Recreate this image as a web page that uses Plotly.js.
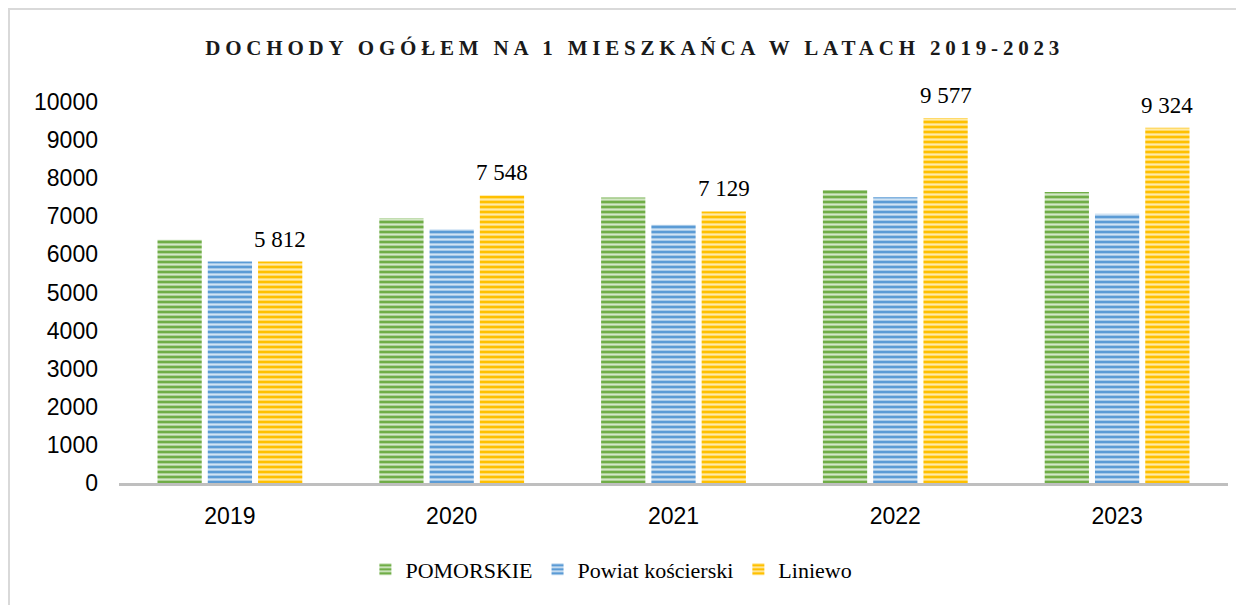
<!DOCTYPE html>
<html>
<head>
<meta charset="utf-8">
<script src="https://cdn.plot.ly/plotly-3.0.1.min.js"></script>
<style>
  html, body { margin: 0; padding: 0; background: #fff; }
  #frame { position: absolute; left: 8px; top: 8px; width: 1300px; height: 700px;
           border-left: 2px solid #d9d9d9; border-top: 2px solid #d9d9d9; pointer-events: none; }
  #chart { position: absolute; left: 0; top: 0; width: 1236px; height: 605px; }
  .gtitle { letter-spacing: 4.8px; }
</style>
</head>
<body>
<div id="chart"></div>
<div id="frame"></div>
<script>
const years = ['2019', '2020', '2021', '2022', '2023'];
const seriesNames = ['POMORSKIE', 'Powiat kościerski', 'Liniewo'];
const pomorskie = [6383, 6951, 7492, 7693, 7641];
const powiat = [5814, 6663, 6776, 7502, 7064];
const liniewo = [5812, 7548, 7129, 9577, 9324];
const yTicks = [0, 1000, 2000, 3000, 4000, 5000, 6000, 7000, 8000, 9000, 10000];

const baseColors = ['#70ad47', '#5b9bd5', '#ffc000'];
const stripeColors = ['#d3e8c6', '#d0e3f4', '#ffeaa6'];
const values = [pomorskie, powiat, liniewo];

const BARGAP = 0.32;
const traces = values.map((v, i) => ({
  type: 'bar',
  name: seriesNames[i],
  x: years,
  y: v,
  marker: {
    color: baseColors[i],
    line: { width: 0 },
    pattern: { shape: '-', fgcolor: stripeColors[i], bgcolor: baseColors[i], size: 5, solidity: 0.45, fillmode: 'replace' }
  },
  hoverinfo: 'x+y'
}));

// value labels for Liniewo (third bar in each group)
const slot = (1 - BARGAP) / values.length;
const fmt = n => String(n).replace(/\B(?=(\d{3})+(?!\d))/g, ' ');
const annotations = liniewo.map((v, i) => ({
  x: i + slot, xref: 'x',
  y: v, yref: 'y',
  text: fmt(v),
  showarrow: false,
  xanchor: 'center', yanchor: 'bottom',
  yshift: 8,
  font: { family: 'Liberation Serif, serif', size: 23, color: '#000' }
}));

const layout = {
  width: 1236,
  height: 605,
  margin: { l: 119, r: 8, t: 102, b: 121.5 },
  paper_bgcolor: 'rgba(0,0,0,0)',
  plot_bgcolor: 'rgba(0,0,0,0)',
  barmode: 'group',
  bargap: BARGAP,
  bargroupgap: 0.12,
  title: {
    text: 'DOCHODY OGÓŁEM NA 1 MIESZKAŃCA W LATACH 2019-2023',
    font: { family: 'Liberation Serif, serif', size: 21, color: '#1a1a1a', weight: 'bold' },
    x: 0.465, xanchor: 'center', xref: 'paper',
    y: 0.922, yanchor: 'middle'
  },
  xaxis: {
    type: 'category',
    showline: true, linecolor: '#bfbfbf', linewidth: 3,
    showgrid: false, ticks: '',
    tickfont: { family: 'Liberation Sans, Arial, sans-serif', size: 23, color: '#000' },
    ticklabelstandoff: 10
  },
  yaxis: {
    range: [0, 10000],
    tickvals: yTicks,
    tickformat: 'd',
    showgrid: false, zeroline: false, showline: false, ticks: '',
    tickfont: { family: 'Liberation Sans, Arial, sans-serif', size: 23, color: '#000' },
    ticklabelstandoff: 20
  },
  annotations: annotations,
  legend: {
    orientation: 'h',
    x: 0.444, xanchor: 'center',
    y: -0.172, yanchor: 'top',
    font: { family: 'Liberation Serif, serif', size: 22, color: '#000' },
    itemwidth: 30,
    traceorder: 'normal'
  },
  showlegend: true
};

Plotly.newPlot('chart', traces, layout, { displayModeBar: false, staticPlot: true });
</script>
</body>
</html>
